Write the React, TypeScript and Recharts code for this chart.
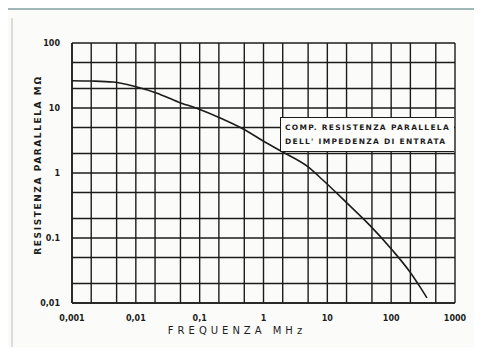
import { CartesianGrid, Line, LineChart, XAxis, YAxis } from "recharts";

// frequency (MHz) and parallel resistance (MΩ)
const frequency = [
  0.001, 0.002, 0.0044, 0.0104, 0.021, 0.046, 0.094, 0.21, 0.48, 1.05, 2.0, 5.0, 8.5,
  20, 46, 103, 197, 283, 363,
];
const resistance = [
  26.3, 26, 25.1, 21, 17, 12.4, 9.7, 7.0, 4.75, 3.0, 2.1, 1.24, 0.78, 0.35, 0.158,
  0.066, 0.03, 0.0177, 0.012,
];

// grid follows 1-2-5 per decade, labels only on decades
const xTicks = [
  0.001, 0.002, 0.005, 0.01, 0.02, 0.05, 0.1, 0.2, 0.5, 1, 2, 5, 10, 20, 50, 100, 200,
  500, 1000,
];
const xLabels: Record<string, string> = {
  "0.001": "0,001",
  "0.01": "0,01",
  "0.1": "0,1",
  "1": "1",
  "10": "10",
  "100": "100",
  "1000": "1000",
};
const yTicks = [0.01, 0.02, 0.05, 0.1, 0.2, 0.5, 1, 2, 5, 10, 20, 50, 100];
const yLabels: Record<string, string> = {
  "0.01": "0,01",
  "0.1": "0.1",
  "1": "1",
  "10": "10",
  "100": "100",
};

const data = frequency.map((f, i) => ({ f, r: resistance[i] }));

const ink = "#1c1c1c";
const font = "'DejaVu Sans', sans-serif";

export default function App() {
  return (
    <div
      style={{
        position: "relative",
        width: 482,
        height: 355,
        margin: -8,
        background: "#fbfbf9",
        fontFamily: font,
        overflow: "hidden",
      }}
    >
      <div style={{ position: "absolute", left: 8, right: 0, top: 8, height: 2, background: "#9fb7b6" }} />
      <div style={{ position: "absolute", left: 11, width: 2, top: 18, bottom: 6, background: "#d9dedc" }} />
      <div style={{ position: "absolute", right: 4, width: 2, top: 12, bottom: 6, background: "#e6e6e2" }} />

      <LineChart
        width={482}
        height={355}
        data={data}
        margin={{ top: 43, right: 27, bottom: 0, left: 0 }}
      >
        <CartesianGrid stroke={ink} strokeWidth={1.4} />
        <XAxis
          dataKey="f"
          type="number"
          scale="log"
          domain={[0.001, 1000]}
          ticks={xTicks}
          interval={0}
          allowDataOverflow
          height={52}
          tickLine={false}
          tickMargin={6}
          axisLine={{ stroke: ink, strokeWidth: 1.5 }}
          tickFormatter={(v) => xLabels[String(v)] ?? ""}
          tick={{ fontSize: 8, fontWeight: 700, fill: ink, fontFamily: font }}
        />
        <YAxis
          type="number"
          scale="log"
          domain={[0.01, 100]}
          ticks={yTicks}
          interval={0}
          allowDataOverflow
          width={72}
          tickLine={false}
          tickMargin={6}
          axisLine={{ stroke: ink, strokeWidth: 1.5 }}
          tickFormatter={(v) => yLabels[String(v)] ?? ""}
          tick={{ fontSize: 8, fontWeight: 700, fill: ink, fontFamily: font }}
        />
        <Line
          dataKey="r"
          type="monotone"
          stroke={ink}
          strokeWidth={1.6}
          dot={false}
          isAnimationActive={false}
        />
      </LineChart>

      <div
        style={{
          position: "absolute",
          left: 38,
          top: 165,
          transform: "translate(-50%, -50%) rotate(-90deg)",
          whiteSpace: "nowrap",
          fontSize: 9,
          fontWeight: 700,
          letterSpacing: 1.6,
          color: ink,
        }}
      >
        RESISTENZA PARALLELA MΩ
      </div>

      <div
        style={{
          position: "absolute",
          left: 237,
          top: 330,
          transform: "translate(-50%, -50%)",
          whiteSpace: "nowrap",
          fontSize: 10,
          letterSpacing: 4,
          color: ink,
        }}
      >
        FREQUENZA MHz
      </div>

      <div
        style={{
          position: "absolute",
          left: 280,
          top: 117,
          width: 174,
          height: 35,
          boxSizing: "border-box",
          background: "#fdfdfb",
          border: `1.5px solid ${ink}`,
          borderRight: "none",
          fontSize: 7.5,
          fontWeight: 700,
          letterSpacing: 1.3,
          lineHeight: "14px",
          color: ink,
          padding: "3px 0 0 4px",
          whiteSpace: "nowrap",
        }}
      >
        <div>COMP. RESISTENZA PARALLELA</div>
        <div>DELL' IMPEDENZA DI ENTRATA</div>
      </div>
    </div>
  );
}
